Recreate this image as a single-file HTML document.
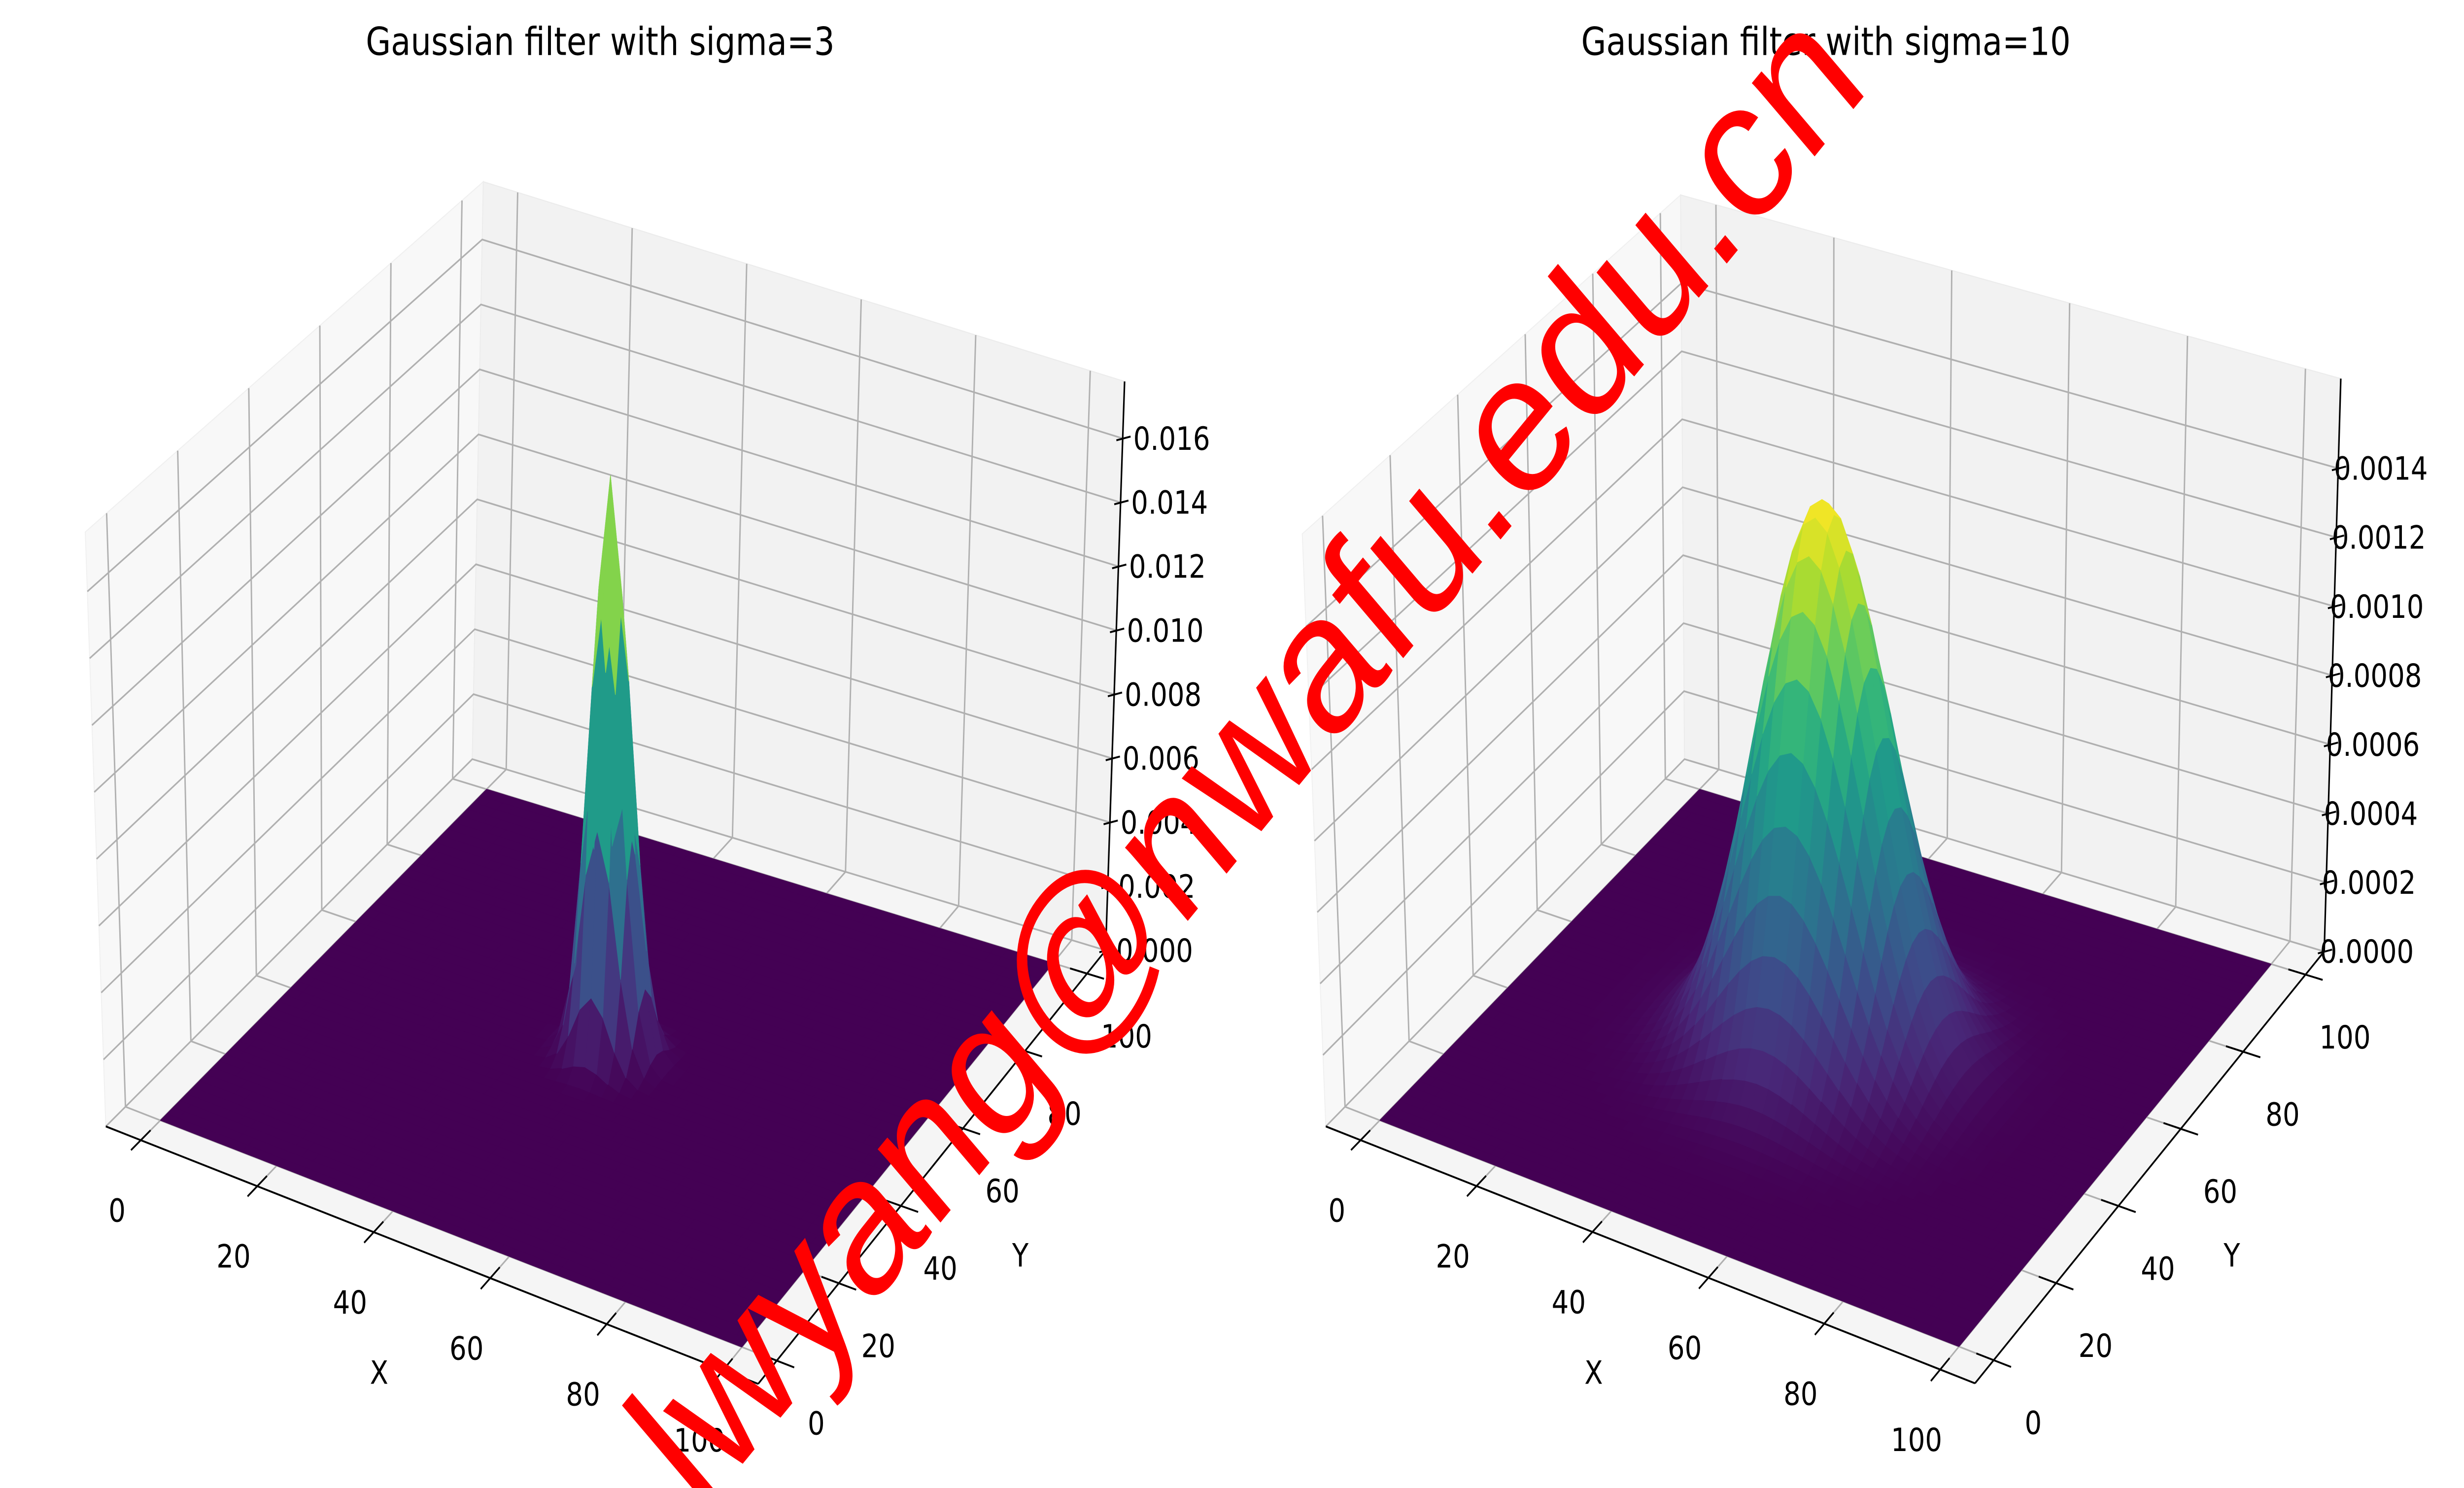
<!DOCTYPE html>
<html><head><meta charset="utf-8">
<style>
html,body{margin:0;padding:0;background:#fff;overflow:hidden;width:100%;height:100%;}
svg{display:block;width:100vw;height:100vh;}
text{font-family:"DejaVu Sans","Liberation Sans",sans-serif;fill:#000;}
</style></head>
<body>
<svg id="fig" viewBox="0 0 1560 786" preserveAspectRatio="none" xmlns="http://www.w3.org/2000/svg">
<rect x="0" y="0" width="1560" height="786" fill="#fff"/>
<g id="panel0"></g>
<g id="panel1"></g>
<text x="380" y="29" font-size="20.5" text-anchor="middle">Gaussian filter with sigma=3</text>
<text x="1156" y="29" font-size="20.5" text-anchor="middle">Gaussian filter with sigma=10</text>
<text x="788" y="398" font-size="105" text-anchor="middle" dominant-baseline="central" transform="rotate(-45.5 788 398)" style="font-family:'Liberation Sans',sans-serif;fill:#ff0000">lwyang@nwafu.edu.cn</text>
</svg>
<script>
// ---- data ----
const sigmas = [3, 10];
const gridCenter = [50, 50];
const xTicks = [0, 20, 40, 60, 80, 100];
const yTicks = [0, 20, 40, 60, 80, 100];
const zTicksLeft = [0, 0.002, 0.004, 0.006, 0.008, 0.010, 0.012, 0.014, 0.016];
const zTickLabelsLeft = ["0.000","0.002","0.004","0.006","0.008","0.010","0.012","0.014","0.016"];
const zTicksRight = [0, 0.0002, 0.0004, 0.0006, 0.0008, 0.0010, 0.0012, 0.0014];
const zTickLabelsRight = ["0.0000","0.0002","0.0004","0.0006","0.0008","0.0010","0.0012","0.0014"];

const NS = "http://www.w3.org/2000/svg";
const viridis = ["#440154","#482878","#3e4989","#31688e","#26828e","#1f9e89","#35b779","#6ece58","#b5de2b","#fde725"];
function hex(c){return [parseInt(c.substr(1,2),16),parseInt(c.substr(3,2),16),parseInt(c.substr(5,2),16)];}
const vstops = viridis.map(hex);
function cmap(v){
  v=Math.max(0,Math.min(1,v));
  const f=v*(vstops.length-1), i=Math.min(vstops.length-2,Math.floor(f)), t=f-i;
  const a=vstops[i], b=vstops[i+1];
  return "rgb("+[0,1,2].map(k=>Math.round(a[k]+(b[k]-a[k])*t)).join(",")+")";
}
function el(tag, attrs, parent){
  const e=document.createElementNS(NS,tag);
  for(const k in attrs) e.setAttribute(k,attrs[k]);
  parent.appendChild(e); return e;
}
const panels = [
  {L:[67,595],F:[480,731],R:[700,502],B:[299,401],
   Lt:[54,281],Ft:[474,420],Rt:[712,201.5],Bt:[306,96],
   zmax:0.01778, zt:zTicksLeft, zl:zTickLabelsLeft, zoff:31,
   xlab:[240,731], ylab:[646,669]},
  {L:[839.4,595],F:[1250.4,730.7],R:[1471.5,502.6],B:[1066.5,401],
   Lt:[824.5,282],Ft:[1243,420],Rt:[1482,200],Bt:[1064,103],
   zmax:0.00166, zt:zTicksRight, zl:zTickLabelsRight, zoff:27,
   xlab:[1009,731], ylab:[1413,669]}
];
const XMIN=-6, XMAX=106, YMIN=-6, YMAX=106;

function makeProj(p){
  function bil(a,b,c,d,s,t){
    return [a[0]*(1-s)*(1-t)+b[0]*s*(1-t)+c[0]*(1-s)*t+d[0]*s*t,
            a[1]*(1-s)*(1-t)+b[1]*s*(1-t)+c[1]*(1-s)*t+d[1]*s*t];
  }
  return function(x,y,z){
    const s=(x-XMIN)/(XMAX-XMIN), t=(y-YMIN)/(YMAX-YMIN), w=z/p.zmax;
    const f=bil(p.L,p.F,p.B,p.R,s,t), g=bil(p.Lt,p.Ft,p.Bt,p.Rt,s,t);
    return [f[0]*(1-w)+g[0]*w, f[1]*(1-w)+g[1]*w];
  };
}
function pts(arr){return arr.map(q=>q[0].toFixed(2)+","+q[1].toFixed(2)).join(" ");}

panels.forEach((p,pi)=>{
  const g=document.getElementById("panel"+pi);
  const P=makeProj(p);
  const Z=p.zmax;
  const lw=el("polygon",{points:pts([P(XMIN,YMIN,0),P(XMIN,YMAX,0),P(XMIN,YMAX,Z),P(XMIN,YMIN,Z)]),fill:"#f8f8f8",stroke:"#f0f0f0","stroke-width":"0.6"},g);
  
  
  const bw=el("polygon",{points:pts([P(XMIN,YMAX,0),P(XMAX,YMAX,0),P(XMAX,YMAX,Z),P(XMIN,YMAX,Z)]),fill:"#f2f2f2",stroke:"#ececec","stroke-width":"0.6"},g);
  
  
  const fl=el("polygon",{points:pts([P(XMIN,YMIN,0),P(XMAX,YMIN,0),P(XMAX,YMAX,0),P(XMIN,YMAX,0)]),fill:"#f5f5f5",stroke:"#ececec","stroke-width":"0.6"},g);
  
  
  const gg=el("g",{stroke:"#b0b0b0","stroke-width":"0.9",fill:"none"},g);
  
  
  xTicks.forEach(x=>{
    el("polyline",{points:pts([P(x,YMIN,0),P(x,YMAX,0),P(x,YMAX,Z)])},gg);
  });
  yTicks.forEach(y=>{
    el("polyline",{points:pts([P(XMAX,y,0),P(XMIN,y,0),P(XMIN,y,Z)])},gg);
  });
  p.zt.forEach(z=>{
    el("polyline",{points:pts([P(XMIN,YMIN,z),P(XMIN,YMAX,z),P(XMAX,YMAX,z)])},gg);
  });
  const sg=el("g",{},g);
  
  
  const sig=sigmas[pi], N=50, step=100/N;
  const zf=(x,y)=>Math.exp(-((x-gridCenter[0])**2+(y-gridCenter[1])**2)/(2*sig*sig))/(2*Math.PI*sig*sig);
  const zpeak=zf(gridCenter[0],gridCenter[1]);
  const quads=[];
  for(let i=0;i<N;i++)for(let j=0;j<N;j++){
    const x0=i*step,x1=(i+1)*step,y0=j*step,y1=(j+1)*step;
    const zs=[zf(x0,y0),zf(x1,y0),zf(x1,y1),zf(x0,y1)];
    const zm=(zs[0]+zs[1]+zs[2]+zs[3])/4;
    const cx=(x0+x1)/2/100, cy=(y0+y1)/2/100;
    const depth=0.433*cx-0.75*cy+0.5*(zm/Z);
    quads.push({c:[[x0,y0,zs[0]],[x1,y0,zs[1]],[x1,y1,zs[2]],[x0,y1,zs[3]]],zm,depth});
  }
  quads.sort((a,b)=>a.depth-b.depth);
  quads.forEach(q=>{
    const col=cmap(q.zm/zpeak);
    const poly=el("polygon",{points:pts(q.c.map(c=>P(c[0],c[1],c[2]))),fill:col,stroke:col,"stroke-width":"0.35","stroke-linejoin":"round"},sg);
    
    
  });
  const ax=el("g",{stroke:"#000","stroke-width":"1",fill:"none"},g);
  
  
  el("line",{x1:P(XMIN,YMIN,0)[0],y1:P(XMIN,YMIN,0)[1],x2:P(XMAX,YMIN,0)[0],y2:P(XMAX,YMIN,0)[1]},ax);
  el("line",{x1:P(XMAX,YMIN,0)[0],y1:P(XMAX,YMIN,0)[1],x2:P(XMAX,YMAX,0)[0],y2:P(XMAX,YMAX,0)[1]},ax);
  el("line",{x1:P(XMAX,YMAX,0)[0],y1:P(XMAX,YMAX,0)[1],x2:P(XMAX,YMAX,Z)[0],y2:P(XMAX,YMAX,Z)[1]},ax);
  const tl=el("g",{"font-size":"17"},g);
  
  
  xTicks.forEach(x=>{
    const a=P(x,YMIN-3,0), b=P(x,YMIN+3,0);
    el("line",{x1:a[0],y1:a[1],x2:b[0],y2:b[1],stroke:"#000","stroke-width":"1"},ax);
    const q=P(x,YMIN,0);
    const t=el("text",{x:q[0]-15,y:q[1]+43,"text-anchor":"middle"},tl);
    t.textContent=String(x);
    
    
  });
  yTicks.forEach(y=>{
    const a=P(XMAX-3,y,0), b=P(XMAX+3,y,0);
    el("line",{x1:a[0],y1:a[1],x2:b[0],y2:b[1],stroke:"#000","stroke-width":"1"},ax);
    const q=P(XMAX,y,0);
    const t=el("text",{x:q[0]+25,y:q[1]+39,"text-anchor":"middle"},tl);
    t.textContent=String(y);
    
    
  });
  p.zt.forEach((z,k)=>{
    const q=P(XMAX,YMAX,z);
    el("line",{x1:q[0]-4,y1:q[1]+1,x2:q[0]+5,y2:q[1]-1,stroke:"#000","stroke-width":"1"},ax);
    const t=el("text",{x:q[0]+p.zoff,y:q[1]+6,"text-anchor":"middle"},tl);
    t.textContent=p.zl[k];
    
    
  });
  const xl=el("text",{x:p.xlab[0],y:p.xlab[1],"font-size":"17","text-anchor":"middle"},g);
  xl.textContent="X";
  
  
  const yl=el("text",{x:p.ylab[0],y:p.ylab[1],"font-size":"17","text-anchor":"middle"},g);
  yl.textContent="Y";
  
  
});
</script>
</body></html>
